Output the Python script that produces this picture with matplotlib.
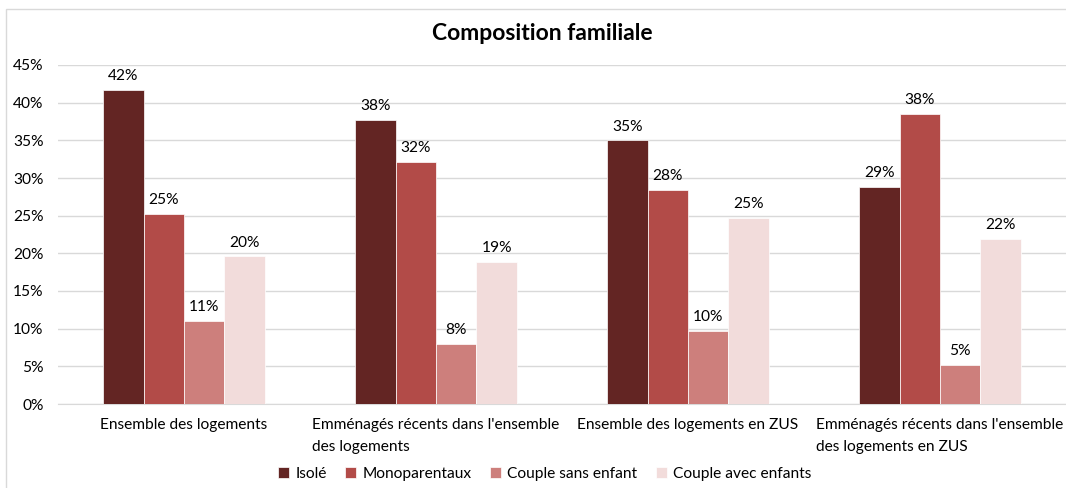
import matplotlib
matplotlib.use("Agg")
import matplotlib.pyplot as plt
from matplotlib.patches import Rectangle
import numpy as np

categories = ["Ensemble des logements",
              "Emménagés récents dans l'ensemble\ndes logements",
              "Ensemble des logements en ZUS",
              "Emménagés récents dans l'ensemble\ndes logements en ZUS"]
series = ["Isolé", "Monoparentaux", "Couple sans enfant", "Couple avec enfants"]
isole = [41.7, 37.7, 35.0, 28.8]
monoparentaux = [25.2, 32.1, 28.4, 38.5]
couple_sans = [11.0, 8.0, 9.7, 5.2]
couple_avec = [19.6, 18.9, 24.7, 21.9]
colors = ["#632523", "#B24B48", "#CD7F7C", "#F2DCDB"]
yticks = [0, 5, 10, 15, 20, 25, 30, 35, 40, 45]

plt.rcParams['font.family'] = ['Lato', 'DejaVu Sans']
FS = 11.2

W, H = 1066, 488
fig = plt.figure(figsize=(W / 100, H / 100), dpi=100)
fig.patch.set_facecolor("white")
fig.patches.append(Rectangle((6 / W, -0.1), 1.2, 1 - 9 / H + 0.1, transform=fig.transFigure,
                             fill=False, edgecolor="#d9d9d9", linewidth=1))

ax = fig.add_axes([58 / W, 1 - 404 / H, 1008 / W, (404 - 65) / H])
x = np.arange(len(categories))
bw = 0.1605
data = [isole, monoparentaux, couple_sans, couple_avec]
for i, (name, vals, c) in enumerate(zip(series, data, colors)):
    pos = x + (i - 1.5) * bw
    ax.bar(pos, vals, width=bw, color=c, edgecolor="white", linewidth=0.5, label=name, zorder=3)
    for p, v in zip(pos, vals):
        ax.text(p, v + 0.9, f"{v:.0f}%", ha="center", va="bottom", fontsize=FS, color="#000000")

ax.set_xlim(-0.5, len(categories) - 0.5)
ax.set_ylim(0, 45)
ax.set_yticks(yticks)
ax.set_yticklabels([f"{t}%" for t in yticks], fontsize=FS)
ax.set_xticks(x)
ax.set_xticklabels(categories, fontsize=FS, multialignment="left", linespacing=1.75)
ax.tick_params(axis="x", length=0, pad=10)
ax.tick_params(axis="y", length=0, pad=10.5)
ax.grid(axis="y", color="#d9d9d9", linewidth=1, zorder=0)
for s in ["top", "right", "left"]:
    ax.spines[s].set_visible(False)
ax.spines["bottom"].set_color("#d9d9d9")
ax.set_axisbelow(True)

fig.text(542 / W, 1 - 33 / H, "Composition familiale", ha="center", va="center",
         fontsize=16.5, fontweight="bold")

leg = fig.legend(loc="center", bbox_to_anchor=(545 / W, 1 - 474 / H), ncol=4, frameon=False,
                 fontsize=FS, handlelength=0.7, handleheight=0.7, handletextpad=0.4,
                 columnspacing=1.2)

fig.savefig("out.png", dpi=100)
